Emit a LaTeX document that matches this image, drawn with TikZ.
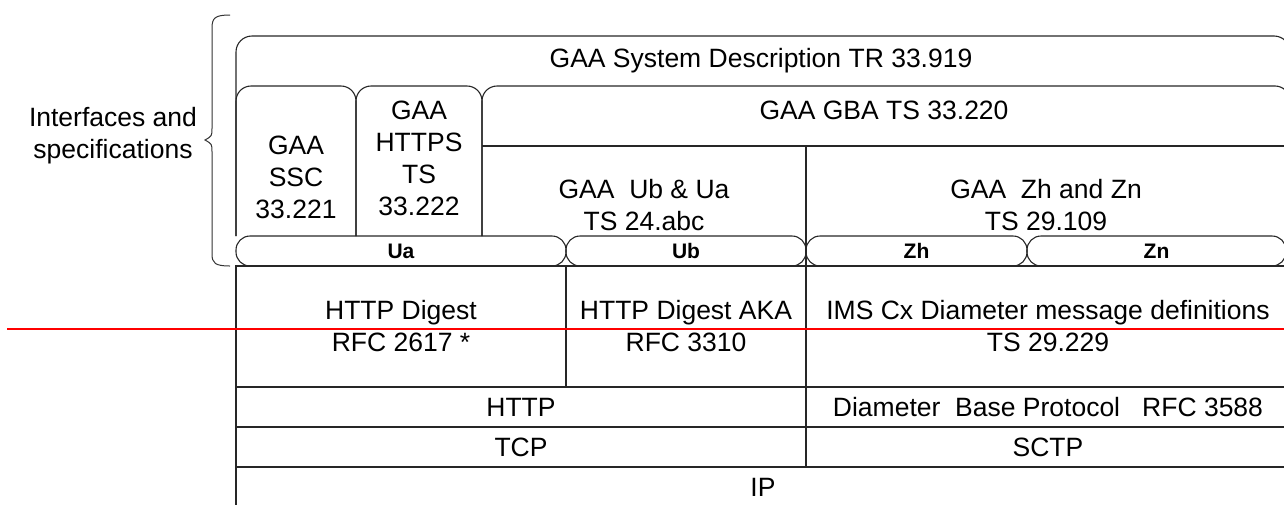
\documentclass[tikz,border=0pt]{standalone}
\usepackage{fontspec}
\setmainfont{Liberation Sans}
\newcommand\bigtxt{\fontsize{26.5}{32}\selectfont}
\newcommand\pilltxt{\fontsize{21}{24}\selectfont\bfseries}
\begin{document}
\begin{tikzpicture}[x=1pt,y=-1pt,
  frame/.style={draw=black!85, line width=1.1pt},
  cell/.style={draw=black!85, line width=1.1pt, rectangle, inner sep=0pt, align=center, font=\bigtxt},
  txt/.style={inner sep=0pt, align=center, font=\bigtxt},
  pill/.style={draw=black!85, line width=1.1pt, rectangle, rounded corners=14pt, minimum height=30pt, inner sep=0pt, font=\pilltxt}]
\useasboundingbox (0,0) rectangle (1284,504);
\clip (0,0) rectangle (1284,504);

% brace
\draw[black!80, line width=1pt] (230,15) .. controls (215,15) and (212,18) .. (212,28) -- (212,128)
  .. controls (212,136) .. (205,140) .. controls (212,144) .. (212,152) -- (212,254)
  .. controls (212,263) and (215,266) .. (230,266);
\node[txt] (iftxt) at (113,136) {Interfaces and\\specifications};

% upper frames
\draw[frame, rounded corners=16pt] (236,236) |- (1290,36) -- (1290,236);
\draw[frame, rounded corners=15pt] (236,236) |- (356,86) -- (356,236);
\draw[frame, rounded corners=15pt] (356,236) |- (482,86) -- (482,236);
\draw[frame, rounded corners=15pt] (482,236) |- (1290,86) -- (1290,236);
\draw[frame] (482,146) -- (1290,146);
\draw[frame] (806,146) -- (806,266);

\node[txt] (systxt) at (761,61) {GAA System Description TR 33.919};
\node[txt] (ssctxt) at (296,177) {GAA\\SSC\\33.221};
\node[txt] (httpstxt) at (419,158.5) {GAA\\HTTPS\\TS\\33.222};
\node[txt] (gbatxt) at (884,110) {GAA GBA TS 33.220};
\node[txt] (ubuatxt) at (644,205.5) {GAA\ \ Ub \& Ua\\TS 24.abc};
\node[txt] (zhzntxt) at (1046,205.5) {GAA\ \ Zh and Zn\\TS 29.109};

% interface pills
\node[pill, minimum width=330pt] (ua) at (401,251) {Ua};
\node[pill, minimum width=240pt] (ub) at (686,251) {Ub};
\node[pill, minimum width=221pt] (zh) at (916.5,251) {Zh};
\node[pill, minimum width=259pt] (zn) at (1156.5,251) {Zn};

% lower cells
\node[cell, minimum width=330pt, minimum height=121pt] (httpd) at (401,326.5) {HTTP Digest\\RFC 2617 *};
\node[cell, minimum width=240pt, minimum height=121pt] (aka) at (686,326.5) {HTTP Digest AKA\\RFC 3310};
\node[cell, minimum width=484pt, minimum height=121pt] (ims) at (1048,326.5) {IMS Cx Diameter message definitions\\TS 29.229};
\node[cell, minimum width=570pt, minimum height=40pt] (http) at (521,407) {HTTP};
\node[cell, minimum width=484pt, minimum height=40pt] (diam) at (1048,407) {Diameter\ \ Base Protocol\ \ \ RFC 3588};
\node[cell, minimum width=570pt, minimum height=40pt] (tcp) at (521,447) {TCP};
\node[cell, minimum width=484pt, minimum height=40pt] (sctp) at (1048,447) {SCTP};
\node[cell, minimum width=1054pt, minimum height=40pt] (ip) at (763,487) {IP};

% red line
\coordinate (rA) at (7,329);
\coordinate (rB) at (1290,329);
\draw[red, line width=2.2pt] (rA) -- (rB);
\end{tikzpicture}
\end{document}
